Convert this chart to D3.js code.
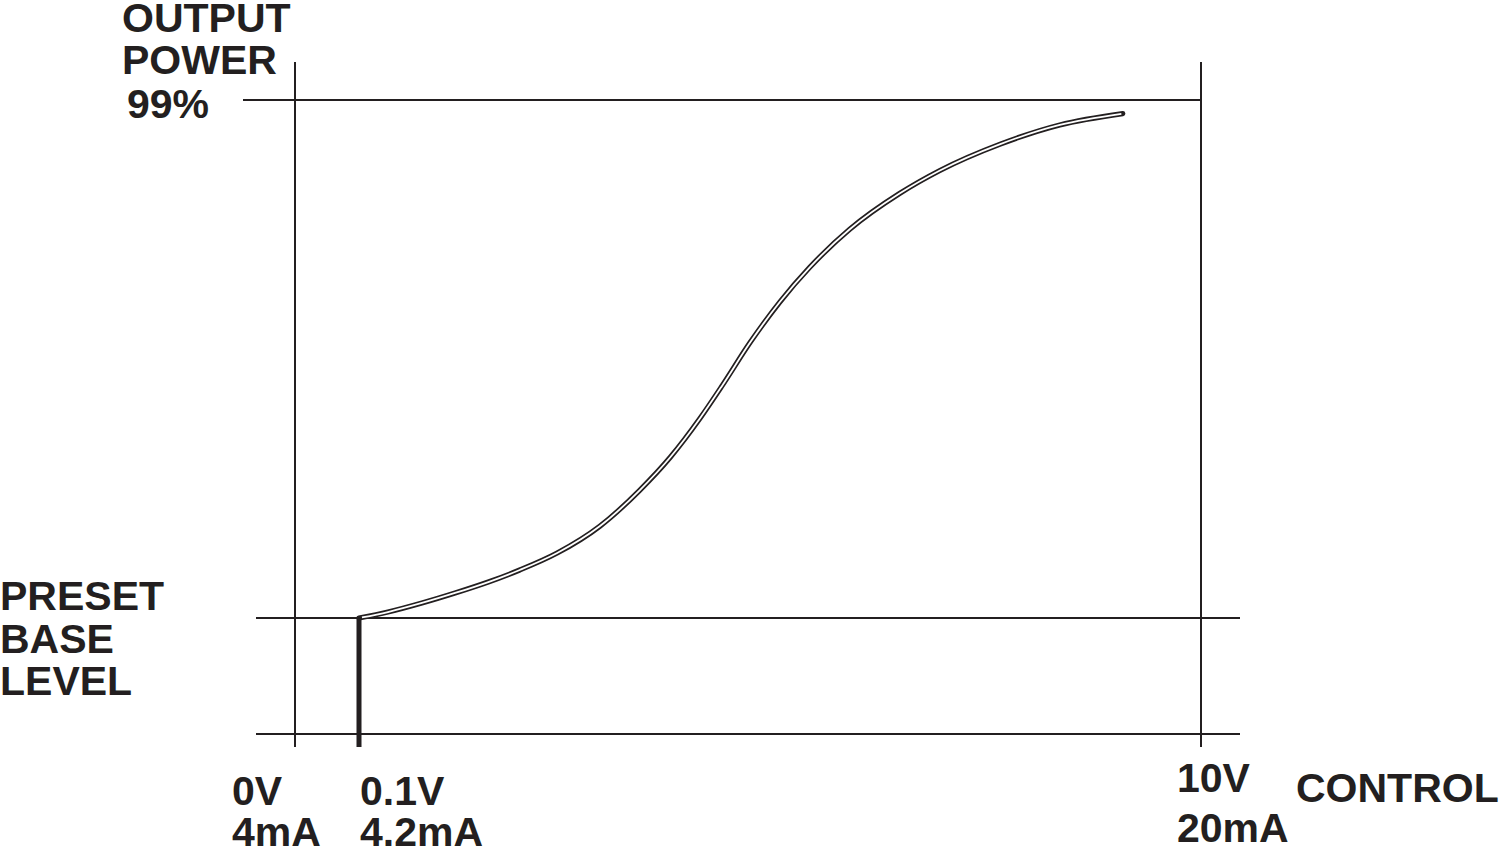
<!DOCTYPE html>
<html>
<head>
<meta charset="utf-8">
<script src="https://cdn.jsdelivr.net/npm/d3@7/dist/d3.min.js"></script>
<style>
  html, body { margin: 0; padding: 0; background: #fff; }
  svg { display: block; }
  text { font-family: "Liberation Sans", Arial, sans-serif; font-weight: bold; fill: #231f20; }
</style>
</head>
<body>
<svg id="chart" width="1500" height="848"></svg>
<script>
// ---- data ----
// control voltage (V) vs output power (%) — schematic curve
const controlV = [0.1, 0.44, 0.84, 1.23, 1.62, 1.99, 2.43, 2.93, 3.40, 3.76, 4.11, 4.37, 4.70, 5.05, 5.40, 5.87, 6.46, 6.93, 7.64, 8.34, 9.08];
const outputPct = [18.11, 19.05, 20.46, 22.02, 23.73, 25.61, 28.26, 32.43, 38.05, 43.21, 49.30, 54.39, 61.16, 67.49, 72.87, 78.81, 84.43, 87.99, 92.11, 95.11, 96.88];
const xTickValues = [0, 0.1, 10];
const xTickVolt = ["0V", "0.1V", "10V"];
const xTickCurrent = ["4mA", "4.2mA", "20mA"];
const baseLevel = 18.11;
const maxLevel = 99;
const yLabelTop = ["OUTPUT", "POWER", "99%"];
const yLabelBase = ["PRESET", "BASE", "LEVEL"];
const xAxisTitle = "CONTROL";

// ---- scales (schematic, piecewise) ----
const x = d3.scaleLinear().domain([0, 0.1, 10]).range([295, 359, 1201]);
const y = d3.scaleLinear().domain([0, maxLevel]).range([734, 100]);

const ink = "#231f20";
const svg = d3.select("#chart");

// vertical frame lines at 0V and 10V (extend below baseline as ticks)
svg.selectAll("line.v").data([0, 10]).enter().append("line")
  .attr("x1", d => x(d)).attr("x2", d => x(d))
  .attr("y1", 62).attr("y2", 747)
  .attr("stroke", ink).attr("stroke-width", 2);

// horizontal lines: 99%, base level, zero
svg.append("line").attr("x1", 243).attr("x2", x(10))
  .attr("y1", y(maxLevel)).attr("y2", y(maxLevel))
  .attr("stroke", ink).attr("stroke-width", 2);
svg.selectAll("line.h").data([baseLevel, 0]).enter().append("line")
  .attr("x1", 256).attr("x2", 1240)
  .attr("y1", d => y(d)).attr("y2", d => y(d))
  .attr("stroke", ink).attr("stroke-width", 2);

// thick step at 0.1V from 0 to base level
svg.append("line")
  .attr("x1", x(0.1)).attr("x2", x(0.1))
  .attr("y1", y(baseLevel) - 1).attr("y2", 747)
  .attr("stroke", ink).attr("stroke-width", 5);

// curve (outlined double stroke)
const pts = controlV.map((v, i) => [v, outputPct[i]]);
const line = d3.line().x(d => x(d[0])).y(d => y(d[1])).curve(d3.curveMonotoneX);
svg.append("path").attr("d", line(pts))
  .attr("fill", "none").attr("stroke", ink).attr("stroke-width", 5.2)
  .attr("stroke-linecap", "round");
const inner = svg.append("path").attr("d", line(pts))
  .attr("fill", "none").attr("stroke", "#fff").attr("stroke-width", 1.8);
const L = inner.node().getTotalLength();
inner.attr("stroke-dasharray", `0 3 ${L - 4.5} ${L}`);

// y labels
svg.selectAll("text.top").data(yLabelTop).enter().append("text")
  .attr("x", (d, i) => i === 2 ? 127 : 122)
  .attr("y", (d, i) => [32, 74, 118][i])
  .attr("font-size", 41).text(d => d);
svg.selectAll("text.base").data(yLabelBase).enter().append("text")
  .attr("x", 0)
  .attr("y", (d, i) => y(baseLevel) - 8 + i * 42.5)
  .attr("font-size", 41).text(d => d);

// x labels
const xLabelDx = [-63, 1, -24];
const voltY = [805, 805, 792];
const currY = [846, 846, 842];
svg.selectAll("text.xv").data(xTickValues).enter().append("text")
  .attr("x", (d, i) => x(d) + xLabelDx[i])
  .attr("y", (d, i) => voltY[i])
  .attr("font-size", 41).text((d, i) => xTickVolt[i]);
svg.selectAll("text.xc").data(xTickValues).enter().append("text")
  .attr("x", (d, i) => x(d) + xLabelDx[i])
  .attr("y", (d, i) => currY[i])
  .attr("font-size", 41).text((d, i) => xTickCurrent[i]);
svg.append("text").attr("x", 1296).attr("y", 802)
  .attr("font-size", 41).text(xAxisTitle);
</script>
</body>
</html>
